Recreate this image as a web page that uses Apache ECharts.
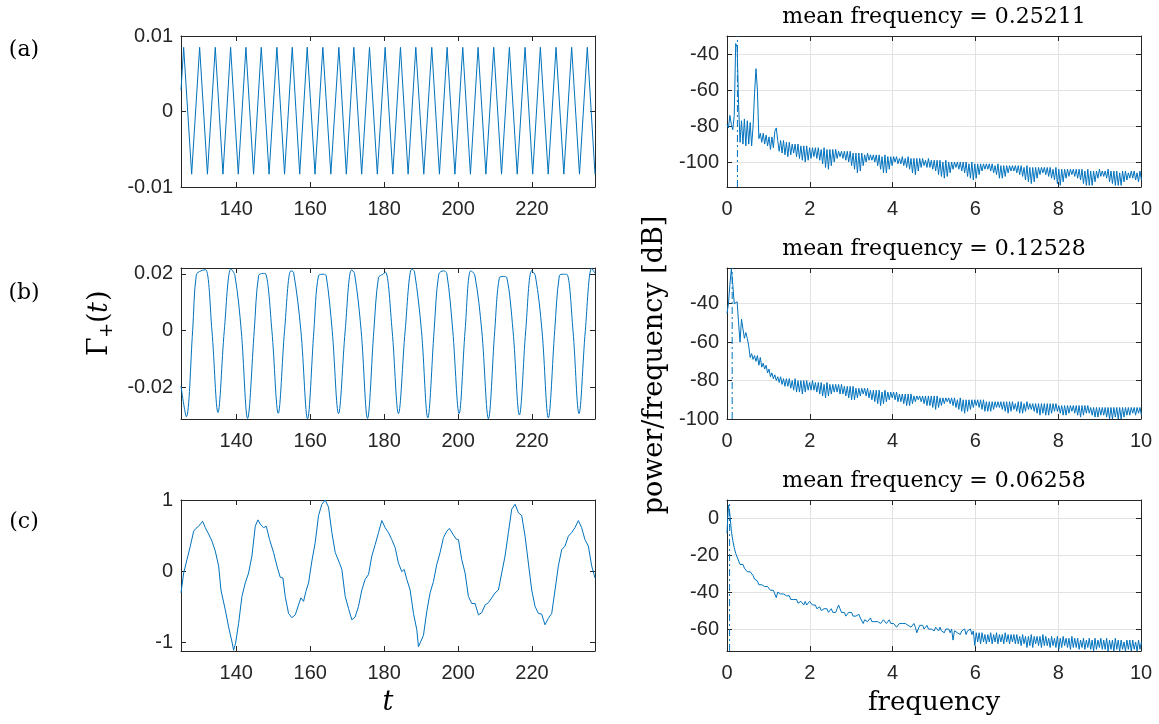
<!DOCTYPE html>
<html>
<head>
<meta charset="utf-8">
<script src="https://cdn.jsdelivr.net/npm/echarts/dist/echarts.min.js"></script>
<style>html,body{margin:0;padding:0;background:#fff}#chart{width:1159px;height:724px}</style>
</head>
<body>
<div id="chart"></div>
<script>
// ---------------- DATA ----------------
const timeTicks = [140, 160, 180, 200, 220];
const freqTicks = [0, 2, 4, 6, 8, 10];
const ampTicksA = [-0.01, 0, 0.01];
const ampTicksB = [-0.02, 0, 0.02];
const ampTicksC = [-1, 0, 1];
const dbTicksA = [-100, -80, -60, -40];
const dbTicksB = [-100, -80, -60, -40];
const dbTicksC = [-60, -40, -20, 0];
const panelTags = ['(a)', '(b)', '(c)'];
const meanFreqText = ['0.25211', '0.12528', '0.06258'];
const meanFreq = [0.25211, 0.12528, 0.06258];

// (a) time series: peaks / troughs
const tA = [125.05,125.77,127.93,130.09,132.2,134.32,136.4,138.47,140.54,142.61,144.68,146.76,148.87,150.99,153.06,155.14,157.16,159.19,161.3,163.42,165.58,167.75,169.77,171.8,173.92,176.04,178.15,180.27,182.34,184.41,186.48,188.56,190.72,192.88,194.95,197.03,199.14,201.26,203.33,205.41,207.52,209.64,211.75,213.87,215.99,218.11,220.18,222.25,224.37,226.49,228.6,230.72,232.83,234.95,237.03];
const vA = [0.0028,0.0085,-0.0083,0.0085,-0.0083,0.0085,-0.0083,0.0085,-0.0083,0.0085,-0.0083,0.0085,-0.0083,0.0085,-0.0083,0.0085,-0.0083,0.0085,-0.0083,0.0085,-0.0083,0.0085,-0.0083,0.0085,-0.0083,0.0085,-0.0083,0.0085,-0.0083,0.0085,-0.0083,0.0085,-0.0083,0.0085,-0.0083,0.0085,-0.0083,0.0085,-0.0083,0.0085,-0.0083,0.0085,-0.0083,0.0085,-0.0083,0.0085,-0.0083,0.0085,-0.0083,0.0085,-0.0083,0.0085,-0.0083,0.0085,-0.0083];

// (b) time series
const tB = [125.05,126.49,128.2,129.19,130.45,131.71,133.42,135.05,136.76,138.56,139.64,141.35,143.06,144.86,146.04,147.21,147.93,149.64,151.35,153.06,154.77,155.5,157.48,159.28,160.99,162.25,163.6,164.32,165.95,167.66,169.46,171.17,171.98,173.78,175.5,177.21,178.47,179.64,180.36,182.16,183.87,185.68,187.48,188.2,190.09,191.8,193.51,194.77,196.04,196.94,198.56,200.27,201.89,203.42,204.5,206.4,208.2,209.91,211.17,212.25,213.15,214.86,216.58,218.29,219.91,220.9,222.7,224.41,226.13,227.39,228.47,229.37,231.08,232.7,234.41,236.13,237.03];
const vB = [-0.0195,-0.0303,0,0.0197,0.0211,0.0215,0,-0.0288,0,0.0218,0.0194,0,-0.0309,0,0.0194,0.0202,0.0201,0,-0.0291,0,0.0211,0.0206,0,-0.031,0,0.0194,0.0199,0.0194,0,-0.0292,0,0.0214,0.0202,0,-0.0309,0,0.0187,0.0199,0.0206,0,-0.0292,0,0.0218,0.0208,0,-0.0307,0,0.0199,0.0211,0.0202,0,-0.0292,0,0.0211,0.0197,0,-0.031,0,0.0187,0.0191,0.0188,0,-0.0297,0,0.0211,0.0194,0,-0.0307,0,0.0194,0.0199,0.0199,0,-0.0292,0,0.022,0.0202];

// (c) time series
const tC = [125.05,125.77,126.67,127.57,128.47,129.1,129.82,130.9,131.62,132.52,133.42,134.32,134.77,135.23,135.86,137.03,137.93,138.83,139.28,139.82,140.63,141.53,142.43,143.33,144.23,145.14,145.86,146.49,147.39,148.11,149.01,150.09,150.99,151.89,152.61,153.24,154.14,155.05,155.95,156.85,157.48,158.2,158.83,159.55,160.45,161.35,162.25,163.15,164.05,164.95,165.86,166.76,167.93,168.56,169.46,170.36,171.26,172.16,173.06,173.96,174.86,175.77,176.67,177.57,178.47,179.37,180.27,181.17,182.07,182.97,183.87,184.77,185.41,186.13,187.03,187.93,188.83,189.28,189.73,190.63,191.53,192.43,193.33,194.23,195.14,196.04,196.94,197.66,198.56,199.46,200.09,200.99,201.89,202.79,203.69,204.59,205.5,206.4,207.3,208.2,209.1,210,210.9,211.8,212.7,213.6,214.5,215.41,216.31,217.21,218.11,219.01,219.91,220.81,221.71,222.61,223.51,224.41,225.32,226.22,227.12,228.02,228.92,229.82,230.72,231.62,232.52,233.42,234.32,235.23,236.13,237.03];
const vC = [-0.3,-0.02,0.17,0.36,0.57,0.61,0.64,0.71,0.62,0.53,0.43,0.29,0.27,0.08,-0.26,-0.54,-0.78,-0.99,-1.11,-1.01,-0.73,-0.35,-0.16,-0.02,0.22,0.64,0.73,0.67,0.62,0.64,0.45,0.27,0.08,-0.08,-0.09,-0.35,-0.59,-0.65,-0.61,-0.47,-0.37,-0.42,-0.28,-0.16,0.15,0.41,0.79,0.95,1.01,0.91,0.55,0.27,0.12,0.03,-0.35,-0.52,-0.68,-0.64,-0.49,-0.26,-0.11,-0.04,0.22,0.38,0.55,0.72,0.62,0.55,0.45,0.34,0.12,0,0.03,-0.11,-0.26,-0.59,-0.82,-1.06,-1.05,-0.9,-0.56,-0.3,-0.14,0.1,0.27,0.48,0.57,0.61,0.53,0.46,0.45,0.17,-0.02,-0.35,-0.45,-0.45,-0.61,-0.58,-0.47,-0.44,-0.37,-0.3,-0.26,-0.02,0.22,0.55,0.88,0.95,0.83,0.79,0.5,0.12,-0.26,-0.49,-0.59,-0.6,-0.75,-0.66,-0.59,-0.26,0.08,0.31,0.36,0.5,0.55,0.62,0.72,0.62,0.45,0.36,0.08,-0.09];

// spectra (dB), sampled every FREQ_STEP starting at 0
const FREQ_STEP = 0.035;
const specA = [
-79,-81,-74,-79,-82,-74,-34,-36,-68,-89,-77,-90,-76,-91,-77,-90,-78,-91,-80,-62,
-48,-60,-87,-84,-89,-84,-90,-85,-91,-86,-93,-86,-92,-83,-81,-88,-94,-88,-95,-88,
-96,-89,-97,-89,-96,-90,-95,-90,-97,-90,-98,-91,-99,-91,-100,-91,-99,-92,-98,-92,
-97,-92,-98,-92,-99,-93,-101,-92,-103,-93,-104,-93,-102,-93,-100,-93,-98,-94,-97,-94,
-98,-94,-99,-94,-100,-94,-102,-95,-104,-95,-106,-95,-105,-95,-102,-96,-100,-95,-99,-96,
-99,-96,-100,-96,-102,-96,-104,-97,-106,-96,-106,-97,-104,-97,-102,-97,-100,-97,-101,-98,
-101,-97,-102,-98,-103,-97,-104,-98,-106,-98,-107,-98,-105,-98,-103,-98,-102,-99,-103,-98,
-103,-99,-104,-99,-105,-99,-107,-99,-108,-100,-109,-99,-108,-100,-106,-100,-104,-100,-103,-100,
-104,-100,-105,-100,-106,-100,-108,-101,-109,-100,-110,-101,-109,-101,-107,-101,-105,-101,-104,-101,
-104,-101,-105,-101,-106,-102,-107,-101,-109,-102,-109,-102,-108,-102,-106,-102,-105,-102,-105,-102,
-106,-102,-107,-102,-108,-103,-110,-102,-111,-103,-112,-103,-111,-103,-109,-103,-107,-103,-106,-103,
-107,-103,-108,-103,-109,-104,-110,-103,-112,-104,-113,-104,-111,-104,-109,-104,-108,-104,-107,-104,
-108,-104,-109,-104,-110,-104,-112,-105,-113,-104,-113,-105,-113,-105,-111,-105,-109,-104,-108,-105,
-108,-105,-109,-104,-111,-105,-112,-105,-113,-105,-113,-106,-113,-105,-111,-105,-110,-106,-109,-105,
-109,-105,-110,-106,-111,-105,-110];
const specB = [
-45,-40,-30,-22,-30,-40,-41,-39,-50,-60,-48,-53,-58,-55,-58,-62,-68,-66,-69,-67,
-70,-67,-72,-68,-73,-71,-74,-72,-76,-74,-78,-76,-79,-77,-80,-78,-81,-78,-82,-79,
-83,-79,-83,-79,-84,-80,-85,-79,-86,-80,-86,-80,-87,-80,-86,-80,-85,-81,-85,-80,
-85,-81,-86,-81,-87,-81,-88,-82,-89,-81,-88,-82,-87,-82,-86,-82,-86,-82,-87,-82,
-87,-83,-88,-83,-89,-83,-90,-83,-90,-84,-89,-84,-88,-84,-87,-84,-88,-84,-89,-85,
-90,-85,-91,-85,-92,-85,-93,-86,-92,-85,-91,-86,-90,-86,-89,-86,-90,-86,-91,-87,
-91,-87,-92,-87,-93,-87,-93,-87,-92,-88,-91,-88,-90,-88,-91,-88,-92,-88,-93,-88,
-93,-88,-94,-88,-95,-88,-94,-89,-93,-89,-92,-89,-91,-89,-92,-89,-93,-89,-94,-90,
-95,-89,-96,-90,-97,-90,-96,-90,-95,-90,-94,-90,-93,-90,-94,-90,-95,-90,-96,-91,
-96,-91,-96,-91,-95,-91,-94,-91,-94,-91,-95,-91,-96,-91,-97,-91,-96,-91,-95,-92,
-96,-91,-97,-91,-97,-92,-96,-91,-95,-92,-95,-92,-96,-92,-97,-92,-98,-92,-97,-92,
-98,-92,-98,-92,-97,-92,-96,-92,-96,-93,-97,-93,-98,-93,-98,-93,-97,-93,-96,-93,
-97,-93,-98,-93,-99,-93,-98,-93,-97,-93,-97,-94,-98,-94,-99,-94,-99,-94,-98,-94,
-98,-94,-99,-94,-100,-94,-100,-94,-99,-94,-100,-94,-100,-94,-99,-94,-98,-94,-98,-94,
-97,-94,-98,-94,-97,-94,-98];
const specC = [
-8,7,2,-7,-12,-16,-19,-21,-20,-25,-26,-25,-27,-28,-29,-28,-29,-30,-31,-33,
-34,-34,-36,-35,-36,-37,-37,-36,-37,-38,-39,-40,-39,-40,-43,-40,-40,-41,-40,-41,
-41,-42,-43,-42,-44,-43,-44,-45,-44,-46,-45,-45,-46,-47,-45,-47,-46,-45,-45,-47,
-48,-47,-49,-48,-48,-50,-49,-49,-50,-49,-51,-50,-49,-51,-50,-51,-49,-47,-49,-51,
-52,-51,-53,-52,-51,-52,-51,-53,-52,-53,-54,-52,-54,-55,-57,-55,-54,-56,-55,-54,
-56,-55,-56,-55,-56,-55,-57,-56,-55,-56,-57,-56,-55,-57,-56,-57,-58,-59,-58,-57,
-58,-57,-58,-57,-56,-58,-57,-59,-58,-57,-59,-62,-60,-58,-59,-58,-60,-59,-58,-60,
-59,-60,-59,-61,-59,-60,-61,-59,-61,-60,-62,-60,-61,-60,-62,-60,-66,-61,-60,-62,
-61,-63,-61,-62,-60,-63,-61,-62,-60,-63,-61,-69,-62,-67,-62,-68,-62,-67,-63,-68,
-63,-67,-62,-68,-63,-67,-62,-68,-63,-67,-63,-68,-62,-67,-63,-68,-63,-67,-63,-68,
-63,-68,-64,-69,-63,-68,-64,-70,-64,-69,-63,-70,-64,-68,-64,-69,-64,-70,-63,-69,
-64,-69,-65,-70,-64,-69,-65,-70,-64,-71,-65,-70,-64,-69,-65,-70,-65,-71,-64,-70,
-65,-70,-65,-71,-66,-70,-65,-71,-66,-70,-65,-71,-66,-72,-65,-71,-66,-70,-65,-71,
-66,-71,-65,-72,-66,-71,-66,-72,-65,-71,-66,-72,-66,-71,-67,-72,-66,-71,-66,-72,
-66,-71,-67,-72,-66,-71,-67];

// ---------------- STYLE / LAYOUT ----------------
const BLUE = '#0072BD';
const AX = '#262626';
const GRIDC = '#e2e2e2';
const TICKFONT = '"Liberation Sans", Arial, sans-serif';
const SERIF = '"DejaVu Serif", serif';
const tLim = [125.05, 237.03];
const fLim = [0, 10];
const ampLims = [[-0.01, 0.01], [-0.0311, 0.0221], [-1.12, 1.01]];
const dbLims = [[-113.9, -29.8], [-100, -21.4], [-71.9, 9.9]];
const rowTops = [36, 268, 500];
const PH = 151, PW = 414, LEFTX = 181, RIGHTX = 727;

const grids = [], xAxes = [], yAxes = [], series = [];
function panel(rect, xr, yr, xt, yt, showGrid) {
  const gi = grids.length;
  grids.push(Object.assign({containLabel: false}, rect));
  const line = {show: true, onZero: false, lineStyle: {color: AX, width: 1}};
  const tick = v => ({show: true, inside: true, length: 5, customValues: v, lineStyle: {color: AX, width: 1}});
  const lab = (v, m) => ({show: true, customValues: v, color: AX, fontFamily: TICKFONT, fontSize: 20, margin: m});
  const xi = xAxes.length;
  xAxes.push({type: 'value', gridIndex: gi, min: xr[0], max: xr[1], position: 'bottom',
    axisLine: line, axisTick: tick(xt), axisLabel: lab(xt, 12),
    splitLine: {show: showGrid, lineStyle: {color: GRIDC, width: 1}}});
  xAxes.push({type: 'value', gridIndex: gi, min: xr[0], max: xr[1], position: 'top',
    axisLine: line, axisTick: tick(xt), axisLabel: {show: false}, splitLine: {show: false}});
  const yi = yAxes.length;
  yAxes.push({type: 'value', gridIndex: gi, min: yr[0], max: yr[1], position: 'left',
    axisLine: line, axisTick: tick(yt), axisLabel: lab(yt, 8),
    splitLine: {show: showGrid, lineStyle: {color: GRIDC, width: 1}}});
  yAxes.push({type: 'value', gridIndex: gi, min: yr[0], max: yr[1], position: 'right',
    axisLine: line, axisTick: tick(yt), axisLabel: {show: false}, splitLine: {show: false}});
  return {xi, yi};
}
function lineSeries(ax, data, smooth) {
  series.push({type: 'line', xAxisIndex: ax.xi, yAxisIndex: ax.yi, data: data,
    symbol: 'none', showSymbol: false, smooth: smooth || false, silent: true,
    lineStyle: {color: BLUE, width: 1}, itemStyle: {color: BLUE}});
}
const zip = (a, b) => a.map((x, i) => [x, b[i]]);
const specData = arr => arr.map((v, i) => [i * FREQ_STEP, v]);

const timeData = [zip(tA, vA), zip(tB, vB), zip(tC, vC)];
const timeSmooth = [false, 0.35, false];
const ampTicks = [ampTicksA, ampTicksB, ampTicksC];
const spectra = [specA, specB, specC];
const dbTicks = [dbTicksA, dbTicksB, dbTicksC];

for (let r = 0; r < 3; r++) {
  const L = panel({left: LEFTX, top: rowTops[r], width: PW, height: PH}, tLim, ampLims[r], timeTicks, ampTicks[r], false);
  lineSeries(L, timeData[r], timeSmooth[r]);
  const R = panel({left: RIGHTX, top: rowTops[r], width: PW, height: PH}, fLim, dbLims[r], freqTicks, dbTicks[r], true);
  lineSeries(R, specData(spectra[r]), false);
  series.push({type: 'line', xAxisIndex: R.xi, yAxisIndex: R.yi, symbol: 'none', silent: true,
    data: [[meanFreq[r], dbLims[r][0]], [meanFreq[r], dbLims[r][1]]],
    lineStyle: {color: BLUE, width: 1, type: [7, 3, 2, 3]}});
}

const txt = (x, y, text, font, extra, align) => Object.assign({type: 'text', x: x, y: y, silent: true,
  style: {text: text, font: font, fill: '#000', textAlign: align || 'center', textVerticalAlign: 'middle', align: align || 'center', verticalAlign: 'middle'}}, extra || {});

const graphic = [];
for (let r = 0; r < 3; r++) {
  graphic.push(txt(RIGHTX + PW / 2, rowTops[r] - 19, 'mean frequency = ' + meanFreqText[r], '22px ' + SERIF));
}
graphic.push(txt(24, 50, panelTags[0], '22px ' + SERIF));
graphic.push(txt(24, 293, panelTags[1], '22px ' + SERIF));
graphic.push(txt(24, 522, panelTags[2], '22px ' + SERIF));
graphic.push(txt(388, 703, 't', 'italic 27px ' + SERIF));
graphic.push(txt(934, 703, 'frequency', '26px ' + SERIF));
graphic.push(txt(655, 365, 'power/frequency [dB]', '27px ' + SERIF, {rotation: Math.PI / 2}));
// Γ_+(t) : rotated group of pieces
graphic.push({type: 'group', x: 100, y: 322, rotation: Math.PI / 2, silent: true, children: [
  txt(-34, 0, 'Γ', '27px ' + SERIF, null, 'left'),
  txt(-16, 7, '+', '18px ' + SERIF, null, 'left'),
  txt(-1, 0, '(', '27px ' + SERIF, null, 'left'),
  txt(9, 0, 't', 'italic 27px ' + SERIF, null, 'left'),
  txt(21, 0, ')', '27px ' + SERIF, null, 'left')
]});

const chart = echarts.init(document.getElementById('chart'), null, {renderer: 'canvas'});
chart.setOption({
  animation: false,
  backgroundColor: '#fff',
  grid: grids, xAxis: xAxes, yAxis: yAxes, series: series, graphic: graphic
});
</script>
</body>
</html>
